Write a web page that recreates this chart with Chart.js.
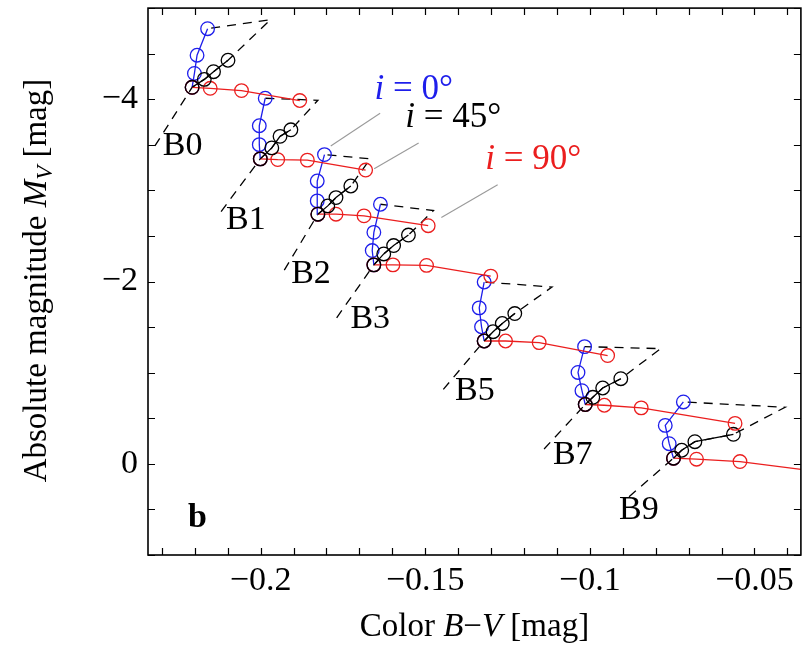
<!DOCTYPE html>
<html lang="en">
<head>
    <meta charset="UTF-8">
    <title>B-star rotation tracks</title>
    <script src="https://cdn.jsdelivr.net/npm/chart.js"></script>
    <style>
        html, body { margin: 0; padding: 0; overflow: hidden; background: #fff; }
        canvas { display: block; }
    </style>
</head>
<body>
    <canvas id="cmd" width="809" height="649"></canvas>

    <script>
        // spectral types, each track starts at the non-rotating model
        const types = ['B0', 'B1', 'B2', 'B3', 'B5', 'B7', 'B9'];

        // i = 0 deg (pole-on)
        const pole_BV = [
            [-0.2208, -0.2201, -0.2193, -0.2161],
            [-0.2001, -0.2004, -0.2004, -0.1986],
            [-0.1826, -0.1828, -0.1828, -0.1806],
            [-0.1656, -0.1661, -0.1656, -0.1636],
            [-0.1321, -0.1329, -0.1336, -0.1321],
            [-0.1014, -0.1024, -0.1036, -0.1016],
            [-0.0746, -0.0759, -0.0771, -0.0716]];
        const pole_MV = [
            [-4.131, -4.283, -4.483, -4.774],
            [-3.346, -3.502, -3.709, -4.011],
            [-2.739, -2.885, -3.103, -3.393],
            [-2.183, -2.340, -2.540, -2.848],
            [-1.348, -1.504, -1.711, -1.995],
            [-0.651, -0.803, -1.003, -1.286],
            [-0.062, -0.221, -0.422, -0.679]];

        // i = 45 deg
        const mid_BV = [
            [-0.2208, -0.2171, -0.2143, -0.2099],
            [-0.2001, -0.1966, -0.1941, -0.1908],
            [-0.1826, -0.1796, -0.1771, -0.1726],
            [-0.1656, -0.1626, -0.1596, -0.1551],
            [-0.1321, -0.1294, -0.1266, -0.1228],
            [-0.1014, -0.0991, -0.0961, -0.0906],
            [-0.0746, -0.0721, -0.0681, -0.0564]];
        const mid_MV = [
            [-4.131, -4.218, -4.302, -4.428],
            [-3.346, -3.466, -3.593, -3.665],
            [-2.739, -2.830, -2.921, -3.048],
            [-2.183, -2.303, -2.395, -2.510],
            [-1.348, -1.450, -1.540, -1.649],
            [-0.651, -0.730, -0.832, -0.934],
            [-0.062, -0.149, -0.243, -0.324]];

        // i = 90 deg (equator-on)
        const eq_BV = [
            [-0.2208, -0.2153, -0.2058, -0.1881],
            [-0.2001, -0.1948, -0.1858, -0.1681],
            [-0.1826, -0.1771, -0.1686, -0.1491],
            [-0.1656, -0.1598, -0.1496, -0.1301],
            [-0.1321, -0.1256, -0.1154, -0.0946],
            [-0.1014, -0.0956, -0.0844, -0.0559],
            [-0.0746, -0.0676, -0.0544, -0.0251]];
        const eq_MV = [
            [-4.131, -4.120, -4.095, -3.986],
            [-3.346, -3.338, -3.332, -3.223],
            [-2.739, -2.739, -2.721, -2.613],
            [-2.183, -2.183, -2.177, -2.060],
            [-1.348, -1.348, -1.330, -1.188],
            [-0.651, -0.643, -0.614, -0.444],
            [-0.062, -0.051, -0.025, 0.109]];

        // dashed envelope: lower-left end and upper-right corner
        const low_BV = [-0.2321, -0.2120, -0.1928, -0.1769, -0.1445, -0.1139, -0.0881];
        const low_MV = [-3.488, -2.768, -2.125, -1.602, -0.817, -0.163, 0.360];
        const apex_BV = [-0.1970, -0.1826, -0.1667, -0.1475, -0.1115, -0.0785, -0.0407];
        const apex_MV = [-4.872, -3.989, -3.346, -2.779, -1.940, -1.264, -0.621];

        // where the type names sit
        const label_BV = [-0.2237, -0.2045, -0.1847, -0.1667, -0.1349, -0.1052, -0.0851];
        const label_MV = [-3.488, -2.670, -2.082, -1.591, -0.796, -0.098, 0.512];

        // inclination labels + gray pointer lines
        const incl = ['0', '45', '90'];
        const inclColors = ['rgb(30,30,235)', '#000', 'rgb(235,30,30)'];
        const inclText_BV = [-0.1535, -0.1415, -0.1172];
        const inclText_MV = [-4.109, -3.793, -3.335];
        const pointerA_BV = [-0.1637, -0.1520, -0.1280];
        const pointerA_MV = [-3.847, -3.520, -3.063];
        const pointerB_BV = [-0.1787, -0.1655, -0.1451];
        const pointerB_MV = [-3.488, -3.237, -2.703];

        const xTicksMajor = [-0.2, -0.15, -0.1, -0.05];
        const yTicksMajor = [-4, -2, 0];

        const serif = '"Liberation Serif", "DejaVu Serif", serif';

        function pts(xs, ys) {
            return xs.map((x, k) => ({ x: x, y: ys[k] }));
        }

        const datasets = [];
        const track = (data, color) => ({
            data: data,
            showLine: true,
            borderColor: color,
            backgroundColor: 'rgba(0,0,0,0)',
            borderWidth: 1.3,
            pointRadius: 6.8,
            pointBorderWidth: 1.3,
            pointBorderColor: color,
            pointBackgroundColor: 'rgba(0,0,0,0)'
        });

        types.forEach((t, k) => {
            datasets.push(track(pts(mid_BV[k], mid_MV[k]), '#000'));
            datasets.push(track(pts(eq_BV[k], eq_MV[k]), inclColors[2]));
            datasets.push(track(pts(pole_BV[k], pole_MV[k]), inclColors[0]));
        });

        // dashed: lower end -> base -> along i=45 track -> corner -> end of i=0 track
        types.forEach((t, k) => {
            const n = mid_BV[k].length;
            const xs = [low_BV[k]].concat(mid_BV[k], [apex_BV[k], pole_BV[k][n - 1]]);
            const ys = [low_MV[k]].concat(mid_MV[k], [apex_MV[k], pole_MV[k][n - 1]]);
            datasets.push({
                data: pts(xs, ys),
                showLine: true,
                borderColor: '#000',
                borderWidth: 1.3,
                borderDash: [9, 7],
                pointRadius: 0
            });
        });

        incl.forEach((t, k) => {
            datasets.push({
                data: pts([pointerA_BV[k], pointerB_BV[k]], [pointerA_MV[k], pointerB_MV[k]]),
                showLine: true,
                borderColor: '#9a9a9a',
                borderWidth: 1.1,
                pointRadius: 0
            });
        });

        // draws a run of text pieces with different fonts
        function richText(ctx, parts, x, y, align) {
            let w = 0;
            parts.forEach(p => { ctx.font = p.font; w += ctx.measureText(p.t).width; });
            let cx = align === 'center' ? x - w / 2 : x;
            parts.forEach(p => {
                ctx.font = p.font;
                ctx.fillStyle = p.color || '#000';
                ctx.fillText(p.t, cx, y + (p.dy || 0));
                cx += ctx.measureText(p.t).width;
            });
        }

        const decorations = {
            id: 'decorations',
            afterDraw(chart) {
                const ctx = chart.ctx;
                const xs = chart.scales.x, ys = chart.scales.y;
                const a = chart.chartArea;
                ctx.save();

                // inward tick marks on all sides
                ctx.strokeStyle = '#000';
                ctx.lineWidth = 1.2;
                ctx.beginPath();
                xs.ticks.forEach(tk => {
                    const px = Math.round(xs.getPixelForValue(tk.value)) + 0.5;
                    ctx.moveTo(px, a.bottom); ctx.lineTo(px, a.bottom - 7);
                    ctx.moveTo(px, a.top); ctx.lineTo(px, a.top + 7);
                });
                ys.ticks.forEach(tk => {
                    const py = Math.round(ys.getPixelForValue(tk.value)) + 0.5;
                    ctx.moveTo(a.left, py); ctx.lineTo(a.left + 7, py);
                    ctx.moveTo(a.right, py); ctx.lineTo(a.right - 7, py);
                });
                ctx.stroke();

                ctx.lineWidth = 1.6;
                ctx.strokeRect(a.left, a.top, a.right - a.left, a.bottom - a.top);

                // spectral type names
                ctx.textBaseline = 'middle';
                ctx.textAlign = 'center';
                ctx.fillStyle = '#000';
                ctx.font = '34px ' + serif;
                types.forEach((t, k) => {
                    ctx.fillText(t, xs.getPixelForValue(label_BV[k]), ys.getPixelForValue(label_MV[k]));
                });

                // i = ... labels
                ctx.textAlign = 'left';
                incl.forEach((t, k) => {
                    richText(ctx, [
                        { t: 'i', font: 'italic 35px ' + serif, color: inclColors[k] },
                        { t: ' = ' + t + '\u00b0', font: '35px ' + serif, color: inclColors[k] }
                    ], xs.getPixelForValue(inclText_BV[k]), ys.getPixelForValue(inclText_MV[k]), 'center');
                });

                // panel letter
                ctx.font = 'bold 34px ' + serif;
                ctx.textAlign = 'center';
                ctx.fillStyle = '#000';
                ctx.fillText('b', xs.getPixelForValue(-0.2192), ys.getPixelForValue(0.599));

                // axis titles
                ctx.textBaseline = 'alphabetic';
                ctx.textAlign = 'left';
                richText(ctx, [
                    { t: 'Color ', font: '33px ' + serif },
                    { t: 'B', font: 'italic 33px ' + serif },
                    { t: '\u2212', font: '33px ' + serif },
                    { t: 'V', font: 'italic 33px ' + serif },
                    { t: ' [mag]', font: '33px ' + serif }
                ], (a.left + a.right) / 2, 636, 'center');

                ctx.translate(46, (a.top + a.bottom) / 2 - 1);
                ctx.rotate(-Math.PI / 2);
                richText(ctx, [
                    { t: 'Absolute magnitude ', font: '33px ' + serif },
                    { t: 'M', font: 'italic 33px ' + serif },
                    { t: 'V', font: 'italic 23px ' + serif, dy: 6 },
                    { t: ' [mag]', font: '33px ' + serif }
                ], 0, 0, 'center');

                ctx.restore();
            }
        };

        const near = (v, list) => list.some(m => Math.abs(v - m) < 1e-6);
        const minus = s => s.replace('-', '\u2212');

        const chart = new Chart(document.getElementById('cmd').getContext('2d'), {
            type: 'scatter',
            data: { datasets: datasets },
            options: {
                responsive: false,
                animation: false,
                devicePixelRatio: 1,
                layout: { padding: { top: 5, right: 0, left: 0, bottom: 0 } },
                plugins: { legend: { display: false }, tooltip: { enabled: false } },
                scales: {
                    x: {
                        type: 'linear',
                        min: -0.2342,
                        max: -0.0359,
                        grid: { display: false, drawTicks: false },
                        border: { display: false },
                        ticks: {
                            stepSize: 0.01,
                            autoSkip: false,
                            maxRotation: 0,
                            includeBounds: false,
                            padding: 6,
                            color: '#000',
                            font: { family: serif, size: 34 },
                            callback: v => near(v, xTicksMajor) ? minus(String(parseFloat(v.toFixed(2)))) : ''
                        },
                        afterFit: s => { s.height = 94; s.paddingLeft = 0; s.paddingRight = 0; }
                    },
                    y: {
                        type: 'linear',
                        reverse: true,
                        min: -5,
                        max: 1,
                        grid: { display: false, drawTicks: false },
                        border: { display: false },
                        ticks: {
                            stepSize: 0.5,
                            autoSkip: false,
                            includeBounds: false,
                            padding: 10,
                            color: '#000',
                            font: { family: serif, size: 34 },
                            callback: v => near(v, yTicksMajor) ? minus(String(v)) : ''
                        },
                        afterFit: s => { s.width = 148; s.paddingTop = 0; s.paddingBottom = 0; }
                    }
                }
            },
            plugins: [decorations]
        });
    </script>
</body>
</html>
